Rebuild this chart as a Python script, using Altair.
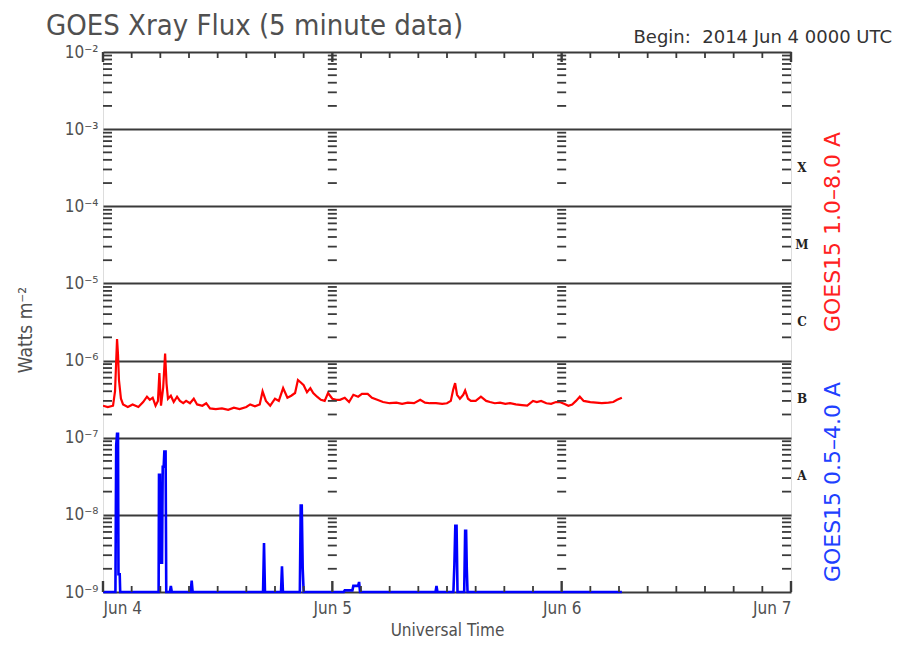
import altair as alt
import pandas as pd
from datetime import datetime, timedelta, timezone

# ---------------- data (hours since 2014-06-04 00:00 UTC, flux in W m^-2) ----------------
red_hours = [0.0, 0.5, 1.05, 1.26, 1.47, 1.57, 1.67, 1.88, 2.1, 2.6, 3.1, 3.7, 4.2, 4.6, 4.9, 5.2,
             5.5, 5.75, 5.9, 6.07, 6.3, 6.5, 6.65, 6.8, 7.1, 7.4, 7.75, 8.05, 8.4, 8.7, 9.1, 9.5,
             9.85, 10.4, 10.8, 11.2, 11.8, 12.45, 13.1, 13.7, 14.3, 15.0, 15.4, 15.9, 16.4, 16.7,
             17.05, 17.5, 18.0, 18.4, 18.85, 19.3, 19.7, 20.1, 20.4, 20.7, 21.0, 21.35, 21.7, 22.0,
             22.4, 22.8, 23.2, 23.55, 24.0, 24.4, 24.8, 25.3, 25.75, 26.2, 26.7, 27.1, 27.7, 28.15,
             28.7, 29.3, 30.0, 30.7, 31.3, 31.9, 32.55, 33.2, 33.7, 34.2, 34.85, 35.5, 36.0, 36.4,
             36.65, 36.85, 37.05, 37.35, 37.7, 37.9, 38.2, 38.5, 39.0, 39.55, 40.1, 40.5, 41.0,
             41.55, 42.1, 42.6, 43.2, 43.85, 44.4, 45.0, 45.4, 45.85, 46.4, 46.9, 47.4, 47.8,
             48.25, 48.7, 49.1, 49.5, 49.9, 50.3, 51.0, 51.6, 52.2, 52.9, 53.4, 53.8, 54.3]
red_flux = [2.6e-7, 2.5e-7, 2.6e-7, 4.0e-7, 1.9e-6, 1.2e-6, 5.6e-7, 3.2e-7, 2.7e-7, 2.5e-7, 2.7e-7,
            2.5e-7, 2.9e-7, 3.4e-7, 3.1e-7, 3.3e-7, 2.6e-7, 3.0e-7, 6.9e-7, 2.6e-7, 4.5e-7, 1.23e-6,
            5.0e-7, 3.2e-7, 3.5e-7, 2.9e-7, 3.4e-7, 3.0e-7, 2.8e-7, 3.0e-7, 2.8e-7, 3.2e-7, 2.7e-7,
            2.6e-7, 2.8e-7, 2.4e-7, 2.35e-7, 2.4e-7, 2.3e-7, 2.45e-7, 2.35e-7, 2.5e-7, 2.7e-7,
            2.55e-7, 2.7e-7, 4.0e-7, 3.0e-7, 2.6e-7, 3.2e-7, 3.0e-7, 4.4e-7, 3.3e-7, 3.5e-7, 3.8e-7,
            5.6e-7, 5.2e-7, 4.8e-7, 3.9e-7, 4.4e-7, 3.8e-7, 3.4e-7, 3.1e-7, 3.0e-7, 3.8e-7, 3.2e-7,
            3.1e-7, 3.1e-7, 3.3e-7, 2.9e-7, 3.6e-7, 3.4e-7, 3.7e-7, 3.7e-7, 3.3e-7, 3.1e-7, 2.9e-7,
            2.8e-7, 2.85e-7, 2.75e-7, 2.85e-7, 2.8e-7, 3.1e-7, 2.85e-7, 2.8e-7, 2.8e-7, 2.75e-7,
            2.8e-7, 3.0e-7, 4.2e-7, 5.1e-7, 3.6e-7, 3.2e-7, 3.6e-7, 4.1e-7, 3.2e-7, 3.0e-7, 3.0e-7,
            3.4e-7, 3.0e-7, 2.9e-7, 2.8e-7, 2.85e-7, 2.75e-7, 2.8e-7, 2.7e-7, 2.65e-7, 2.6e-7,
            3.0e-7, 2.9e-7, 3.0e-7, 2.8e-7, 2.75e-7, 2.9e-7, 2.9e-7, 2.75e-7, 2.6e-7, 2.7e-7,
            3.0e-7, 3.4e-7, 3.0e-7, 2.9e-7, 2.85e-7, 2.8e-7, 2.85e-7, 2.9e-7, 3.1e-7, 3.3e-7]

blue_hours = [0.0, 1.3, 1.38, 1.47, 1.57, 1.62, 1.75, 1.8, 5.82, 5.86, 5.96, 6.02, 6.18, 6.25, 6.35,
              6.42, 6.55, 6.62, 7.0, 7.1, 7.2, 9.18, 9.28, 9.38, 16.75, 16.85, 16.95, 18.63, 18.73,
              18.83, 20.6, 20.69, 20.8, 20.9, 21.0, 25.2, 25.3, 26.1, 26.2, 26.7, 26.8, 26.9, 34.8,
              34.9, 35.0, 36.67, 36.77, 36.87, 37.0, 37.1, 37.8, 37.9, 38.0, 38.07, 38.15, 54.3]
blue_flux = [1e-9, 1e-9, 8.0e-8, 1.12e-7, 1.12e-7, 1.7e-9, 1.7e-9, 1e-9, 1e-9, 3.3e-8, 3.3e-8,
             2.4e-9, 2.4e-9, 4.2e-8, 4.2e-8, 6.6e-8, 6.6e-8, 1e-9, 1e-9, 1.2e-9, 1e-9, 1e-9,
             1.4e-9, 1e-9, 1e-9, 4.3e-9, 1e-9, 1e-9, 2.15e-9, 1e-9, 1e-9, 1.32e-8, 1.32e-8, 2e-9,
             1e-9, 1e-9, 1.05e-9, 1.05e-9, 1.2e-9, 1.2e-9, 1.35e-9, 1e-9, 1e-9, 1.2e-9, 1e-9,
             1e-9, 2.2e-9, 7.2e-9, 7.2e-9, 1e-9, 1e-9, 6.2e-9, 6.2e-9, 2e-9, 1e-9, 1e-9]

decade_exps = [-9, -8, -7, -6, -5, -4, -3, -2]
class_letters = ["A", "B", "C", "M", "X"]
class_exps = [-7.5, -6.5, -5.5, -4.5, -3.5]
day_offsets = [0, 24, 48, 72]
title_text = "GOES Xray Flux (5 minute data)"
begin_text = "Begin:\u00a0\u00a02014 Jun 4 0000 UTC"
red_label = "GOES15 1.0\u20138.0 A"
blue_label = "GOES15 0.5\u20134.0 A"
y_title = "Watts m\u207b\u00b2"
x_title = "Universal Time"

# ---------------- helpers ----------------
BASE = datetime(2014, 6, 4, tzinfo=timezone.utc)


def iso(h):
    return (BASE + timedelta(hours=h)).strftime("%Y-%m-%dT%H:%M:%SZ")


W, H = 688, 540
FONT = "DejaVu Sans Condensed, DejaVu Sans, sans-serif"
FONT_W = "DejaVu Sans, sans-serif"
GREY = "#505050"
SUP = {"-": "\u207b", "0": "\u2070", "1": "\u00b9", "2": "\u00b2", "3": "\u00b3", "4": "\u2074",
       "5": "\u2075", "6": "\u2076", "7": "\u2077", "8": "\u2078", "9": "\u2079"}

red_df = pd.DataFrame({"t": [iso(h) for h in red_hours], "flux": red_flux})
blue_df = pd.DataFrame({"t": [iso(h) for h in blue_hours], "flux": blue_flux})

minor_vals = [k * 10.0 ** n for n in range(-9, -2) for k in range(2, 10)]
minor_df = pd.DataFrame({"v": minor_vals})
mid_df = pd.DataFrame([{"t": iso(d), "v": v} for d in (24, 48) for v in minor_vals])
tick3_df = pd.DataFrame({"t": [iso(h) for h in range(0, 73, 3) if h % 24 != 0]})
tickday_df = pd.DataFrame({"t": [iso(h) for h in day_offsets]})
class_df = pd.DataFrame({"c": class_letters, "v": [10.0 ** e for e in class_exps]})

label_expr = ""
for e in decade_exps:
    lab = "10" + "".join(SUP[ch] for ch in str(e))
    label_expr += f"datum.value < {1.5 * 10.0 ** e} ? '{lab}' : "
label_expr += "''"

xscale = alt.Scale(type="utc",
                   domain=[alt.DateTime(year=2014, month=6, date=4, utc=True),
                           alt.DateTime(year=2014, month=6, date=7, utc=True)])
yscale = alt.Scale(type="log", domain=[1e-9, 1e-2], nice=False)

x_axis = alt.Axis(values=[alt.DateTime(year=2014, month=6, date=d, utc=True) for d in (4, 5, 6, 7)],
                  labelExpr="utcFormat(datum.value, '%b %-d')", ticks=False, domain=False,
                  grid=False, labelFont=FONT, labelFontSize=17, labelColor=GREY, labelPadding=8,
                  title=x_title, titleFont=FONT, titleFontSize=17, titleColor=GREY,
                  titleFontWeight="normal", titlePadding=6)
y_axis = alt.Axis(values=[10.0 ** e for e in decade_exps], labelExpr=label_expr, ticks=False,
                  domain=False, grid=True, gridColor="#3a3a3a", gridWidth=1.8, labelFont=FONT,
                  labelFontSize=17, labelColor=GREY, labelPadding=5, title=None)


def X():
    return alt.X("t:T", scale=xscale, axis=x_axis)


def Y(f):
    return alt.Y(f"{f}:Q", scale=yscale, axis=y_axis)


red_line = alt.Chart(red_df).mark_line(color="#ff0000", strokeWidth=2.2, clip=True).encode(
    x=X(), y=Y("flux"))
blue_line = alt.Chart(blue_df).mark_line(color="#0000ff", strokeWidth=2.6, clip=False).encode(
    x=X(), y=Y("flux"))

tick_style = dict(color="#3a3a3a", strokeWidth=1.8)
left_ticks = alt.Chart(minor_df).mark_rule(**tick_style).encode(
    y=Y("v"), x=alt.value(0), x2=alt.value(9))
right_ticks = alt.Chart(minor_df).mark_rule(**tick_style).encode(
    y=Y("v"), x=alt.value(W - 9), x2=alt.value(W))
mid_ticks = alt.Chart(mid_df).mark_tick(orient="horizontal", size=9, thickness=1.8,
                                        color="#3a3a3a", opacity=1).encode(x=X(), y=Y("v"))
top_minor = alt.Chart(tick3_df).mark_rule(**tick_style).encode(
    x=X(), y=alt.value(0), y2=alt.value(6))
bot_minor = alt.Chart(tick3_df).mark_rule(**tick_style).encode(
    x=X(), y=alt.value(H - 6), y2=alt.value(H))
top_major = alt.Chart(tickday_df).mark_rule(color="#3a3a3a", strokeWidth=2.4).encode(
    x=X(), y=alt.value(0), y2=alt.value(10))
bot_major = alt.Chart(tickday_df).mark_rule(color="#3a3a3a", strokeWidth=2.4).encode(
    x=X(), y=alt.value(H - 11), y2=alt.value(H))

class_text = alt.Chart(class_df).mark_text(font="DejaVu Serif", fontWeight="bold", fontSize=12,
                                           color="#222", align="center", baseline="middle").encode(
    y=Y("v"), x=alt.value(W + 11), text="c:N")

one = pd.DataFrame({"a": [0]})


def label(txt, x, y, font=FONT, **kw):
    return alt.Chart(one).mark_text(text=txt, font=font, **kw).encode(
        x=alt.value(x), y=alt.value(y))


title_mark = label(title_text, -57, -26, fontSize=29, color=GREY, align="left", baseline="middle")
begin_mark = label(begin_text, 789, -14, font=FONT_W, fontSize=18, color="#333", align="right",
                   baseline="middle")
red_mark = label(red_label, W + 42, 180, font=FONT_W, fontSize=22, color="#ff2020", angle=270,
                 align="center", baseline="middle")
blue_mark = label(blue_label, W + 42, 430, font=FONT_W, fontSize=22, color="#2040ff", angle=270,
                  align="center", baseline="middle")
ytitle_mark = label(y_title, -77, 278, fontSize=19, color=GREY, angle=270, align="center",
                    baseline="middle")

chart = alt.layer(
    red_line, blue_line, left_ticks, right_ticks, mid_ticks, top_minor, bot_minor, top_major,
    bot_major, class_text, title_mark, begin_mark, red_mark, blue_mark, ytitle_mark,
).properties(
    width=W, height=H,
    autosize=alt.AutoSizeParams(type="none"),
    padding={"left": 95, "top": 44, "right": 105, "bottom": 46},
).configure_view(stroke="#555", strokeWidth=2).configure(background="white")

chart.save("out.html", embed_options={"renderer": "svg", "actions": False})
